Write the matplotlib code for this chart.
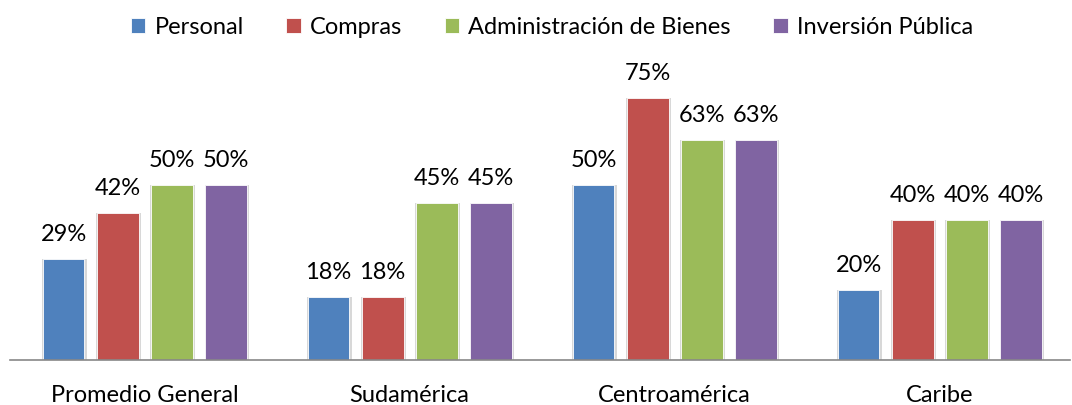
import numpy as np
import matplotlib.pyplot as plt

plt.rcParams['font.family'] = ['Lato', 'DejaVu Sans']

regions = ["Promedio General", "Sudamérica", "Centroamérica", "Caribe"]
series = ["Personal", "Compras", "Administración de Bienes", "Inversión Pública"]
personal = [29, 18, 50, 20]
compras = [42, 18, 75, 40]
bienes = [50, 45, 63, 40]
inversion = [50, 45, 63, 40]

COLORS = ['#4F81BD', '#C0504D', '#9BBB59', '#8064A2']
WIDTH = 0.158
STEP = 0.204
FS = 17

fig = plt.figure(figsize=(10.72, 4.05), dpi=100)
ax = fig.add_axes([10 / 1072, 45 / 405, 1060 / 1072, 280 / 405])

x = np.arange(len(regions))
for i, (name, vals) in enumerate(zip(series, [personal, compras, bienes, inversion])):
    pos = x + (i - 1.5) * STEP + 0.008
    # soft shadow behind bars
    ax.bar(pos + 0.004, vals, width=WIDTH + 0.01, color='#d8d8d8', zorder=1)
    ax.bar(pos, vals, width=WIDTH, color=COLORS[i], label=name,
           edgecolor='white', linewidth=0.6, zorder=2)
    for p, v in zip(pos, vals):
        ax.annotate(f"{v}%", (p, v), xytext=(0, 10), textcoords='offset points',
                    ha='center', va='bottom', fontsize=FS, annotation_clip=False)

ax.set_xlim(-0.5, len(regions) - 0.5)
ax.set_ylim(0, 80)
ax.set_yticks([])
ax.set_xticks(x + 0.008)
ax.set_xticklabels(regions, fontsize=FS)
ax.tick_params(axis='x', length=0, pad=18)
for s in ['top', 'right', 'left']:
    ax.spines[s].set_visible(False)
ax.spines['bottom'].set_color('#888888')
ax.spines['bottom'].set_linewidth(1.2)

fig.legend(loc='upper center', bbox_to_anchor=(0.515, 1.01), ncol=4, frameon=False,
           fontsize=FS, handlelength=0.6, handleheight=0.6, handletextpad=0.4,
           columnspacing=1.8)

fig.savefig("out.png", dpi=100)
